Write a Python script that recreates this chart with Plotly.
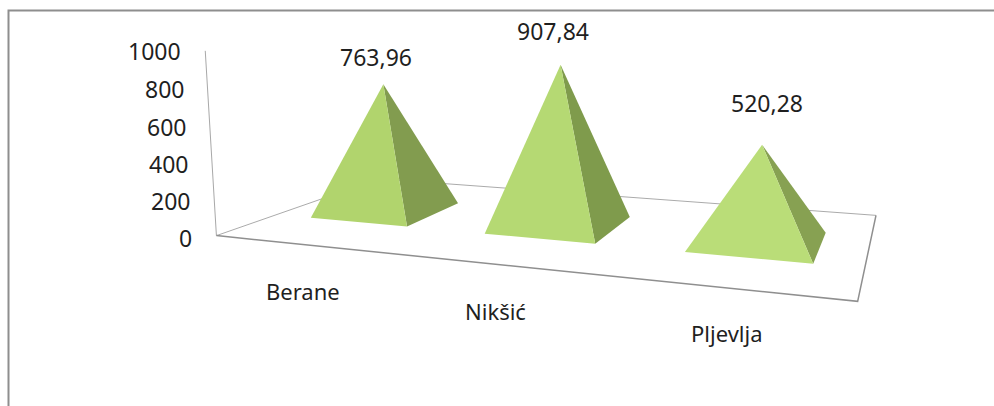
import numpy as np
import plotly.graph_objects as go

categories = ["Berane", "Nikšić", "Pljevlja"]
values = [763.96, 907.84, 520.28]
value_labels = ["763,96", "907,84", "520,28"]
axis_ticks = [0, 200, 400, 600, 800, 1000]

front_colors = ["#B1D46D", "#B5D973", "#BADD78"]
side_colors = ["#829C4F", "#7F9B4C", "#87A152"]
TEXT = "#1f1f1f"
FONT = "Noto Sans"
HALF_W, HALF_D = 0.285, 0.19

# Camera calibration: world (category pos, depth, value) -> chart pixel
calib = [
    ((0, 0, 0), (217, 236)), ((3, 0, 0), (858, 300)),
    ((3, 1, 0), (876, 215)), ((0, 1, 0), (380, 178)),
    ((0, 0, 1000), (205.5, 50)),
    ((0.5, 0.5, values[0]), (383, 84.5)),
    ((1.5, 0.5, values[1]), (560.7, 65)),
    ((2.5, 0.5, values[2]), (762, 145.5)),
    ((0.5, 0.5, 0), (385, 211)),
    ((1.5, 0.5, 0), (560, 225.5)),
    ((2.5, 0.5, 0), (758, 242.5)),
]
rows = []
for (X, Y, Z), (u, v) in calib:
    Z = Z / 1000
    rows.append([X, Y, Z, 1, 0, 0, 0, 0, -u * X, -u * Y, -u * Z, -u])
    rows.append([0, 0, 0, 0, X, Y, Z, 1, -v * X, -v * Y, -v * Z, -v])
P = np.linalg.svd(np.array(rows, float))[2][-1].reshape(3, 4)


def proj(X, Y, Z=0):
    h = P @ np.array([X, Y, Z / 1000, 1.0])
    return h[0] / h[2], h[1] / h[2]


def poly(points, fill=None, line=None, width=0):
    xs, ys = zip(*points)
    return go.Scatter(
        x=list(xs), y=list(ys), mode="lines", hoverinfo="skip", showlegend=False,
        fill="toself" if fill else None, fillcolor=fill,
        line=dict(color=line or "rgba(0,0,0,0)", width=width),
    )


fig = go.Figure()

# Chart frame (top and left edges only)
fig.add_trace(poly([(8.5, 406), (8.5, 10.5), (994, 10.5)], line="#8E8E8E", width=2))

# Floor and value axis
c00, c30, c31, c01 = proj(0, 0), proj(3, 0), proj(3, 1), proj(0, 1)
fig.add_trace(poly([c00, c01, c31], line="#ABABAB", width=1))
fig.add_trace(poly([proj(0, 0, 1000), c00], line="#A8A8A8", width=1))
fig.add_trace(poly([c00, c30, c31], line="#8F8F8F", width=1.5))

# Pyramids
for i, v in enumerate(values):
    cx = i + 0.5
    fl = proj(cx - HALF_W, 0.5 - HALF_D)
    fr = proj(cx + HALF_W, 0.5 - HALF_D)
    br = proj(cx + HALF_W, 0.5 + HALF_D)
    apex = proj(cx, 0.5, v)
    fig.add_trace(poly([fr, br, apex, fr], fill=side_colors[i]))
    fig.add_trace(poly([fl, fr, apex, fl], fill=front_colors[i]))

annotations = []


def label(text, x, y, size=22, anchor="center"):
    annotations.append(dict(
        x=x, y=y, text=text, showarrow=False, xref="x", yref="y",
        xanchor=anchor, yanchor="middle",
        font=dict(family=FONT, size=size, color=TEXT),
    ))


for t in axis_ticks:
    px, py = proj(0, 0, t)
    label(str(t), px - 22, py + 2 - 2 * t / 1000, 23, "right")

value_offsets = [(-7, -27), (-8, -34), (5, -42)]
for i, v in enumerate(values):
    px, py = proj(i + 0.5, 0.5, v)
    label(value_labels[i], px + value_offsets[i][0], py + value_offsets[i][1], 23)

cat_offsets = [(-1, 46), (-3, 46), (-1, 45)]
for i, c in enumerate(categories):
    px, py = proj(i + 0.5, 0)
    label(c, px + cat_offsets[i][0], py + cat_offsets[i][1])

fig.update_layout(
    width=994, height=406, autosize=False,
    margin=dict(l=0, r=0, t=0, b=0),
    paper_bgcolor="white", plot_bgcolor="white",
    xaxis=dict(range=[0, 994], visible=False, fixedrange=True),
    yaxis=dict(range=[406, 0], visible=False, fixedrange=True),
    annotations=annotations,
)
fig.write_html("out.html", config={"displayModeBar": False},
               post_script="document.body.style.margin='0';document.documentElement.style.overflow='hidden';")
